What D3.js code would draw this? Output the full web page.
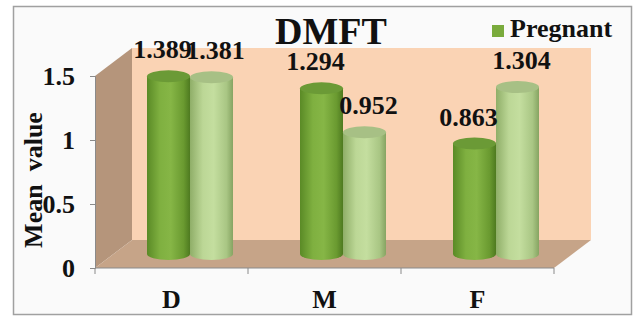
<!DOCTYPE html>
<html>
<head>
<meta charset="utf-8">
<script src="https://cdn.jsdelivr.net/npm/d3@7"></script>
<style>
  body { margin: 0; background: #fff; }
  svg text { font-family: "Liberation Serif", "Times New Roman", serif; font-weight: bold; fill: #111; }
</style>
</head>
<body>
<svg id="chart" width="634" height="323"></svg>
<script>
// chart data
const categories = ['D', 'M', 'F'];
const pregnant = [1.389, 1.294, 0.863];
const nonPregnant = [1.381, 0.952, 1.304];
const yTicks = [0, 0.5, 1, 1.5];

const svg = d3.select('#chart');

// 3D-ish layout: front plane + depth offset
const frontLeft = 95, frontRight = 554;
const depthX = 37, depthY = -28;
const x = d3.scaleBand().domain(categories).range([frontLeft, frontRight]);
const y = d3.scaleLinear().domain([0, 1.5]).range([268, 76]);

// outer frame
svg.append('rect')
  .attr('x', 13.5).attr('y', 6.5)
  .attr('width', 618).attr('height', 308)
  .attr('fill', '#fafafa')
  .attr('stroke', '#a0a0a0')
  .attr('stroke-width', 1.5);

// left side wall
svg.append('polygon')
  .attr('points', [
    [frontLeft, y(0)], [frontLeft, y(1.5)],
    [frontLeft + depthX, y(1.5) + depthY], [frontLeft + depthX, y(0) + depthY]
  ].map(p => p.join(',')).join(' '))
  .attr('fill', '#b5957b');

// back wall
svg.append('rect')
  .attr('x', frontLeft + depthX)
  .attr('y', y(1.5) + depthY)
  .attr('width', frontRight - frontLeft)
  .attr('height', y(0) - y(1.5))
  .attr('fill', '#fad3b4');

// floor
svg.append('polygon')
  .attr('points', [
    [frontLeft, y(0)], [frontRight, y(0)],
    [frontRight + depthX, y(0) + depthY], [frontLeft + depthX, y(0) + depthY]
  ].map(p => p.join(',')).join(' '))
  .attr('fill', '#c6a488');

// gradients for cylinders
const defs = svg.append('defs');
function cylGrad(id, stops) {
  const g = defs.append('linearGradient').attr('id', id)
    .attr('x1', '0%').attr('x2', '100%').attr('y1', '0%').attr('y2', '0%');
  stops.forEach(s => g.append('stop').attr('offset', s[0]).attr('stop-color', s[1]));
}
cylGrad('gDark', [['0%', '#5a8a26'], ['30%', '#7fb040'], ['55%', '#86b646'], ['85%', '#6a9a30'], ['100%', '#4e7a20']]);
cylGrad('gLight', [['0%', '#8fae68'], ['30%', '#bcd796'], ['55%', '#c4de9f'], ['85%', '#a9c684'], ['100%', '#86a462']]);

const rx = 21.5, ry = 6;
const base = y(0) + depthY / 2;
const k = y(0) - y(1); // px per unit

function drawCylinder(g, cx, value, fill, topFill) {
  const top = base - value * k;
  g.append('path')
    .attr('d', `M${cx - rx},${top} L${cx - rx},${base} A${rx},${ry} 0 0 0 ${cx + rx},${base} L${cx + rx},${top} Z`)
    .attr('fill', fill);
  g.append('ellipse')
    .attr('cx', cx).attr('cy', top)
    .attr('rx', rx).attr('ry', ry)
    .attr('fill', topFill);
  return top;
}

const bars = svg.append('g');
const labels = svg.append('g');
categories.forEach((c, i) => {
  const center = x(c) + x.bandwidth() / 2 + depthX / 2;
  const t1 = drawCylinder(bars, center - rx, pregnant[i], 'url(#gDark)', '#6b9a36');
  const t2 = drawCylinder(bars, center + rx, nonPregnant[i], 'url(#gLight)', '#a7c085');
  labels.append('text')
    .attr('x', center - rx - 6).attr('y', t1 - 18)
    .attr('text-anchor', 'middle').attr('font-size', 26)
    .text(pregnant[i].toFixed(3));
  labels.append('text')
    .attr('x', center + rx + 4).attr('y', t2 - 18)
    .attr('text-anchor', 'middle').attr('font-size', 26)
    .text(nonPregnant[i].toFixed(3));
});

// y axis
const yAxis = d3.axisLeft(y).tickValues(yTicks).tickSize(5).tickPadding(15)
  .tickFormat(d => d3.format('')(d));
const yG = svg.append('g').attr('transform', `translate(${frontLeft},0)`).call(yAxis);
yG.select('.domain').attr('stroke', '#8a8a8a');
yG.selectAll('.tick line').attr('stroke', '#8a8a8a');
yG.selectAll('.tick text')
  .attr('font-size', 26).attr('font-family', null).attr('dy', '0.32em');

// x axis: line with boundary ticks, labels at band centers
svg.append('line')
  .attr('x1', frontLeft).attr('x2', frontRight)
  .attr('y1', y(0)).attr('y2', y(0))
  .attr('stroke', '#8a8a8a');
const bounds = categories.map(c => x(c)).concat([frontRight]);
svg.selectAll('.xtick').data(bounds).enter().append('line')
  .attr('x1', d => d).attr('x2', d => d)
  .attr('y1', y(0)).attr('y2', y(0) + 6)
  .attr('stroke', '#8a8a8a');
svg.selectAll('.xlab').data(categories).enter().append('text')
  .attr('x', d => x(d) + x.bandwidth() / 2)
  .attr('y', 308)
  .attr('text-anchor', 'middle')
  .attr('font-size', 26)
  .text(d => d);

// y axis title
svg.append('text')
  .attr('transform', 'translate(42,180) rotate(-90)')
  .attr('text-anchor', 'middle')
  .attr('font-size', 26)
  .style('white-space', 'pre')
  .text('Mean  value');

// title
svg.append('text')
  .attr('x', 331).attr('y', 44)
  .attr('text-anchor', 'middle')
  .attr('font-size', 38)
  .text('DMFT');

// legend
svg.append('rect')
  .attr('x', 492).attr('y', 25)
  .attr('width', 12).attr('height', 12)
  .attr('fill', '#7aab3c');
svg.append('text')
  .attr('x', 510).attr('y', 37)
  .attr('font-size', 26)
  .text('Pregnant');
</script>
</body>
</html>
